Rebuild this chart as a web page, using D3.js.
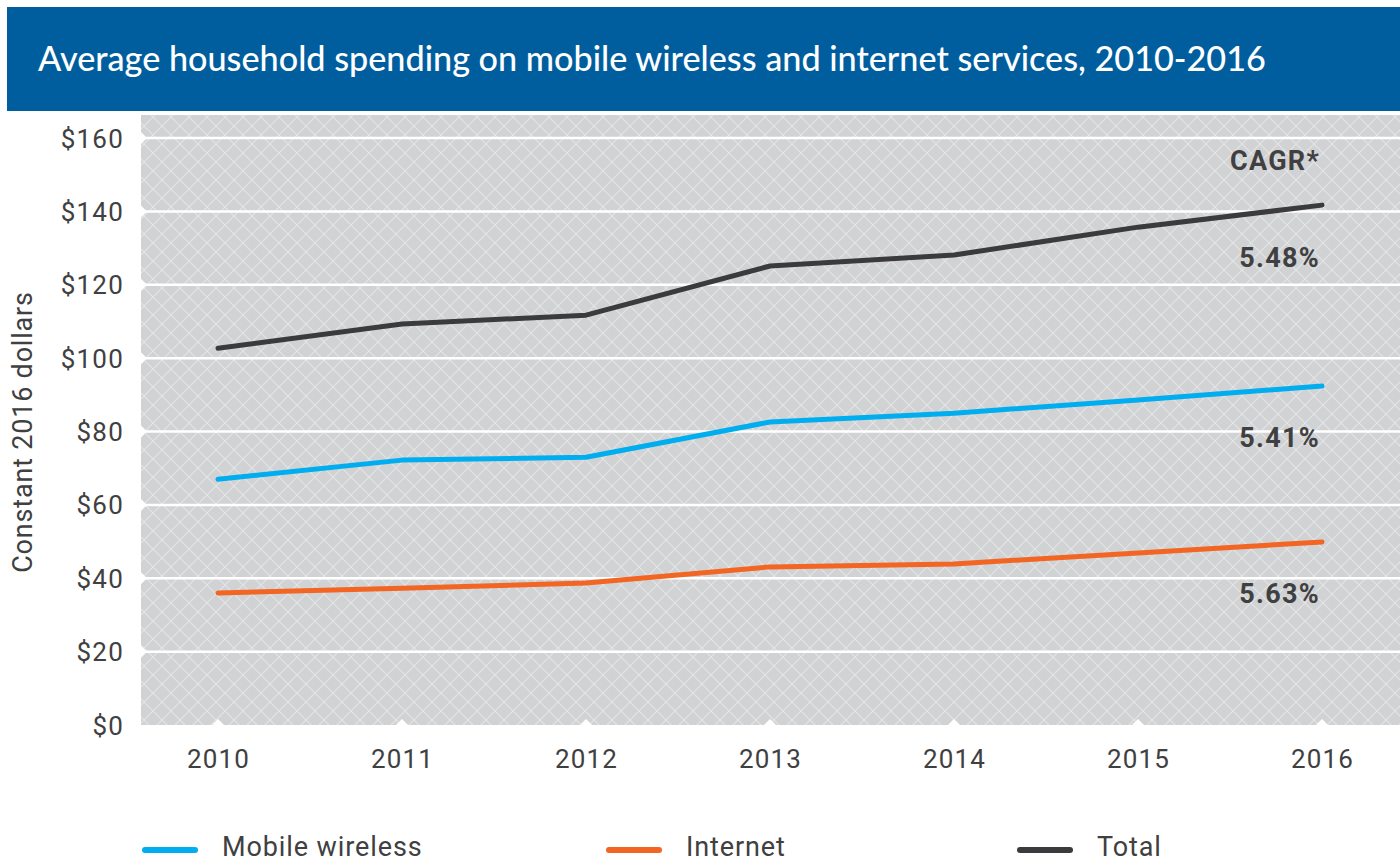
<!DOCTYPE html>
<html>
<head>
<meta charset="utf-8">
<script src="https://cdn.jsdelivr.net/npm/d3@7"></script>
<style>
  html, body { margin: 0; padding: 0; background: #ffffff; }
  svg { display: block; }
</style>
</head>
<body>
<script>
// ---- Data ----
const years = ["2010", "2011", "2012", "2013", "2014", "2015", "2016"];
const mobileWireless = [67.0, 72.2, 73.0, 82.6, 85.0, 88.6, 92.4];
const internet = [36.0, 37.3, 38.7, 43.1, 43.9, 46.9, 49.9];
const total = [102.7, 109.3, 111.7, 125.1, 128.1, 135.7, 141.7];
const yTicks = [0, 20, 40, 60, 80, 100, 120, 140, 160];
const seriesNames = ["Mobile wireless", "Internet", "Total"];
const cagrLabels = ["5.41%", "5.63%", "5.48%"];
const titleText = "Average household spending on mobile wireless and internet services, 2010-2016";
const yAxisTitle = "Constant 2016 dollars";

// ---- Layout ----
const W = 1400, H = 865;
const plot = { left: 141, right: 1400, top: 115, bottom: 725 };
const colors = { mobile: "#00aeef", internet: "#f26522", total: "#3b3b3d" };
const textColor = "#404041";
const labelFont = "Roboto, 'Noto Sans', sans-serif";

const svg = d3.select("body").append("svg").attr("width", W).attr("height", H);

// pattern
const defs = svg.append("defs");
const pat = defs.append("pattern").attr("id", "lattice")
  .attr("patternUnits", "userSpaceOnUse").attr("width", 18).attr("height", 18);
pat.append("rect").attr("width", 18).attr("height", 18).attr("fill", "#d1d2d4");
pat.append("path").attr("d", "M0,0 L18,18 M-9,9 L9,27 M9,-9 L27,9 M18,0 L0,18 M-9,9 L9,-9 M9,27 L27,9")
  .attr("stroke", "#e4e5e6").attr("stroke-width", 1.1).attr("fill", "none");

// title banner
svg.append("rect").attr("x", 7).attr("y", 7).attr("width", W - 7).attr("height", 104).attr("fill", "#005e9e");
const title = svg.append("text").attr("x", 38).attr("y", 71)
  .attr("fill", "#ffffff").attr("font-family", "Lato, 'Noto Sans', sans-serif")
  .attr("font-size", 31).attr("font-weight", 500).text(titleText);
const tl = title.node().getComputedTextLength();
if (tl > 0) title.attr("font-size", 31 * 1228 / tl);

// scales
const x = d3.scalePoint().domain(years).range([218, 1322]);
const y = d3.scaleLinear().domain([0, 160]).range([plot.bottom, 138]);

// plot background
svg.append("rect").attr("x", plot.left).attr("y", plot.top)
  .attr("width", plot.right - plot.left).attr("height", plot.bottom - plot.top)
  .attr("fill", "url(#lattice)");

// gridlines
const grid = svg.append("g");
grid.selectAll("line").data(yTicks.filter(d => d > 0)).join("line")
  .attr("x1", plot.left).attr("x2", plot.right)
  .attr("y1", d => y(d)).attr("y2", d => y(d))
  .attr("stroke", "#ffffff").attr("stroke-width", 2.5);
// left-edge notches
grid.selectAll("path.ln").data(yTicks.filter(d => d > 0)).join("path").attr("class", "ln")
  .attr("d", d => `M${plot.left - 1},${y(d) - 7} L${plot.left + 6},${y(d)} L${plot.left - 1},${y(d) + 7} Z`)
  .attr("fill", "#ffffff");
// bottom notches
grid.selectAll("path.bn").data(years).join("path").attr("class", "bn")
  .attr("d", d => `M${x(d) - 7},${plot.bottom + 1} L${x(d)},${plot.bottom - 6} L${x(d) + 7},${plot.bottom + 1} Z`)
  .attr("fill", "#ffffff");

// y axis labels
const yAxis = d3.axisLeft(y).tickValues(yTicks).tickSize(0).tickPadding(0).tickFormat(d => "$" + d);
const yg = svg.append("g").attr("transform", `translate(124,0)`).call(yAxis);
yg.select(".domain").remove();
yg.selectAll("text").attr("font-family", labelFont).attr("font-size", 26)
  .attr("letter-spacing", 1.2).attr("fill", textColor).attr("dy", "0.35em");

// x axis labels
const xAxis = d3.axisBottom(x).tickSize(0).tickPadding(0);
const xg = svg.append("g").attr("transform", `translate(0,750)`).call(xAxis);
xg.select(".domain").remove();
xg.selectAll("text").attr("font-family", labelFont).attr("font-size", 26)
  .attr("letter-spacing", 1.2).attr("fill", textColor).attr("dy", "0.71em");

// y axis title
svg.append("text").attr("transform", "translate(32,432) rotate(-90)")
  .attr("text-anchor", "middle").attr("font-family", labelFont).attr("font-size", 27)
  .attr("letter-spacing", 0.8).attr("fill", textColor).text(yAxisTitle);

// lines
const line = d3.line().x((d, i) => x(years[i])).y(d => y(d));
const series = [
  { vals: mobileWireless, color: colors.mobile },
  { vals: internet, color: colors.internet },
  { vals: total, color: colors.total }
];
svg.append("g").selectAll("path").data(series).join("path")
  .attr("d", d => line(d.vals)).attr("fill", "none")
  .attr("stroke", d => d.color).attr("stroke-width", 5)
  .attr("stroke-linecap", "round").attr("stroke-linejoin", "round");

// CAGR labels
const cg = svg.append("g").attr("font-family", labelFont).attr("font-size", 27)
  .attr("font-weight", 700).attr("letter-spacing", 1.3).attr("fill", textColor).attr("text-anchor", "end");
cg.append("text").attr("x", 1320).attr("y", 170).text("CAGR*");
cg.append("text").attr("x", 1320).attr("y", 267).text(cagrLabels[2]);
cg.append("text").attr("x", 1320).attr("y", 447).text(cagrLabels[0]);
cg.append("text").attr("x", 1320).attr("y", 603).text(cagrLabels[1]);

// legend
const legendX = [143, 607, 1018];
const legendColors = [colors.mobile, colors.internet, colors.total];
const lg = svg.append("g");
seriesNames.forEach((name, i) => {
  lg.append("line").attr("x1", legendX[i] + 2).attr("x2", legendX[i] + 52)
    .attr("y1", 850).attr("y2", 850).attr("stroke", legendColors[i])
    .attr("stroke-width", 6).attr("stroke-linecap", "round");
  lg.append("text").attr("x", legendX[i] + 79).attr("y", 856)
    .attr("font-family", labelFont).attr("font-size", 27).attr("letter-spacing", 0.9)
    .attr("fill", textColor).text(name);
});
</script>
</body>
</html>
